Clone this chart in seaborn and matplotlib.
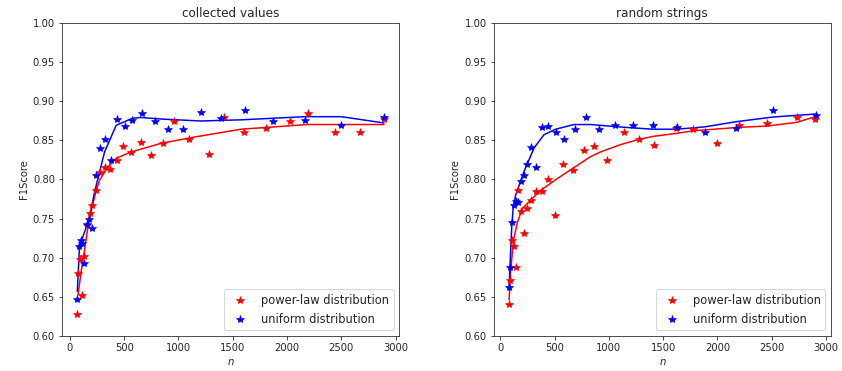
import matplotlib
matplotlib.use("Agg")
import matplotlib.pyplot as plt
import seaborn as sns

# ---- collected values ----
cv_pow_n = [69, 75, 97, 112, 127, 161, 182, 207, 237, 274, 320, 366, 434, 492, 565,
            657, 749, 859, 963, 1101, 1279, 1423, 1601, 1809, 2027, 2189, 2440, 2673, 2893]
cv_pow_f1 = [0.628, 0.681, 0.698, 0.652, 0.702, 0.742, 0.757, 0.767, 0.786, 0.810, 0.816,
             0.813, 0.825, 0.842, 0.835, 0.848, 0.831, 0.846, 0.874, 0.852, 0.833, 0.880,
             0.860, 0.866, 0.874, 0.885, 0.860, 0.861, 0.877]
cv_uni_n = [69, 81, 99, 115, 130, 155, 179, 204, 237, 274, 320, 375, 433, 504, 577, 669,
            783, 902, 1043, 1209, 1395, 1616, 1868, 2162, 2502, 2893]
cv_uni_f1 = [0.647, 0.715, 0.723, 0.719, 0.693, 0.743, 0.750, 0.738, 0.806, 0.840, 0.852,
             0.825, 0.877, 0.868, 0.876, 0.885, 0.875, 0.864, 0.864, 0.886, 0.878, 0.889,
             0.874, 0.876, 0.870, 0.880]
# smoothed trend lines
cv_pow_fit_n = [75, 106, 136, 167, 204, 244, 274, 351, 427, 565, 841, 1147, 1576, 2189, 2893]
cv_pow_fit = [0.652, 0.684, 0.710, 0.739, 0.765, 0.786, 0.799, 0.816, 0.827, 0.835, 0.846,
              0.854, 0.864, 0.870, 0.870]
cv_uni_fit_n = [69, 90, 115, 152, 182, 228, 320, 427, 577, 657, 841, 1209, 1576, 2162, 2502, 2893]
cv_uni_fit = [0.657, 0.718, 0.725, 0.739, 0.752, 0.784, 0.835, 0.869, 0.878, 0.879, 0.877,
              0.8745, 0.876, 0.880, 0.880, 0.872]

# ---- random strings ----
rs_pow_n = [81, 90, 112, 127, 142, 164, 188, 219, 244, 287, 333, 381, 440, 507, 581, 666,
            770, 862, 988, 1144, 1274, 1420, 1620, 1776, 1999, 2199, 2456, 2732, 2900]
rs_pow_f1 = [0.641, 0.671, 0.722, 0.715, 0.688, 0.786, 0.760, 0.731, 0.763, 0.774, 0.785,
             0.785, 0.800, 0.754, 0.819, 0.812, 0.838, 0.842, 0.825, 0.860, 0.851, 0.844,
             0.866, 0.864, 0.847, 0.870, 0.872, 0.880, 0.877]
rs_uni_n = [81, 90, 106, 127, 142, 164, 188, 219, 250, 287, 333, 381, 443, 510, 590, 685,
            789, 912, 1055, 1221, 1404, 1625, 1882, 2174, 2514, 2906]
rs_uni_f1 = [0.663, 0.688, 0.746, 0.767, 0.772, 0.771, 0.798, 0.806, 0.820, 0.841, 0.816,
             0.867, 0.868, 0.861, 0.851, 0.864, 0.880, 0.864, 0.869, 0.869, 0.869, 0.867,
             0.860, 0.865, 0.889, 0.882]
rs_pow_fit_n = [81, 97, 121, 158, 204, 372, 526, 679, 832, 924, 1101, 1276, 1414, 1625,
                1776, 2199, 2456, 2732, 2900]
rs_pow_fit = [0.646, 0.684, 0.722, 0.745, 0.763, 0.786, 0.801, 0.815, 0.829, 0.835, 0.844,
              0.851, 0.855, 0.8587, 0.862, 0.8664, 0.868, 0.8728, 0.880]
rs_uni_fit_n = [81, 90, 106, 120, 142, 219, 311, 403, 510, 679, 832, 1092, 1404, 1625,
                1882, 2174, 2514, 2906]
rs_uni_fit = [0.659, 0.690, 0.740, 0.765, 0.780, 0.810, 0.840, 0.857, 0.864, 0.870, 0.870,
              0.867, 0.864, 0.864, 0.867, 0.8736, 0.8796, 0.8834]

titles = ["collected values", "random strings"]
yticks = [0.60, 0.65, 0.70, 0.75, 0.80, 0.85, 0.90, 0.95, 1.00]

panels = [
    (cv_pow_n, cv_pow_f1, cv_uni_n, cv_uni_f1, cv_pow_fit_n, cv_pow_fit, cv_uni_fit_n, cv_uni_fit),
    (rs_pow_n, rs_pow_f1, rs_uni_n, rs_uni_f1, rs_pow_fit_n, rs_pow_fit, rs_uni_fit_n, rs_uni_fit),
]

sns.set_style("ticks")
plt.rcParams['font.family'] = ['DejaVu Sans']

fig, axes = plt.subplots(1, 2, figsize=(842 / 72, 371 / 72), dpi=72)
fig.subplots_adjust(left=62 / 842, right=831 / 842, top=1 - 22.7 / 371,
                    bottom=1 - 336 / 371, wspace=0.28)

for ax, title, (pn, pf, un, uf, pfn, pfit, ufn, ufit) in zip(axes, titles, panels):
    # star markers only (no connecting line)
    sns.lineplot(x=pn, y=pf, ax=ax, marker="*", linestyle="", color="red",
                 markersize=8.5, markeredgecolor="red", markeredgewidth=0.6,
                 label="power-law distribution", zorder=3)
    sns.lineplot(x=un, y=uf, ax=ax, marker="*", linestyle="", color="blue",
                 markersize=8.5, markeredgecolor="blue", markeredgewidth=0.6,
                 label="uniform distribution", zorder=3)
    sns.lineplot(x=pfn, y=pfit, ax=ax, color="red", linewidth=1.5, legend=False)
    sns.lineplot(x=ufn, y=ufit, ax=ax, color="blue", linewidth=1.5, legend=False)

    ax.set_ylim(0.6, 1.0)
    ax.set_yticks(yticks)
    ax.set_yticklabels([f"{v:.2f}" for v in yticks])
    ax.set_xticks([0, 500, 1000, 1500, 2000, 2500, 3000])
    ax.set_title(title, fontsize=12)
    ax.set_xlabel("$n$")
    ax.set_ylabel("F1Score")
    ax.legend(loc="lower right", fontsize=11.5)

fig.savefig("out.png", dpi=72)
